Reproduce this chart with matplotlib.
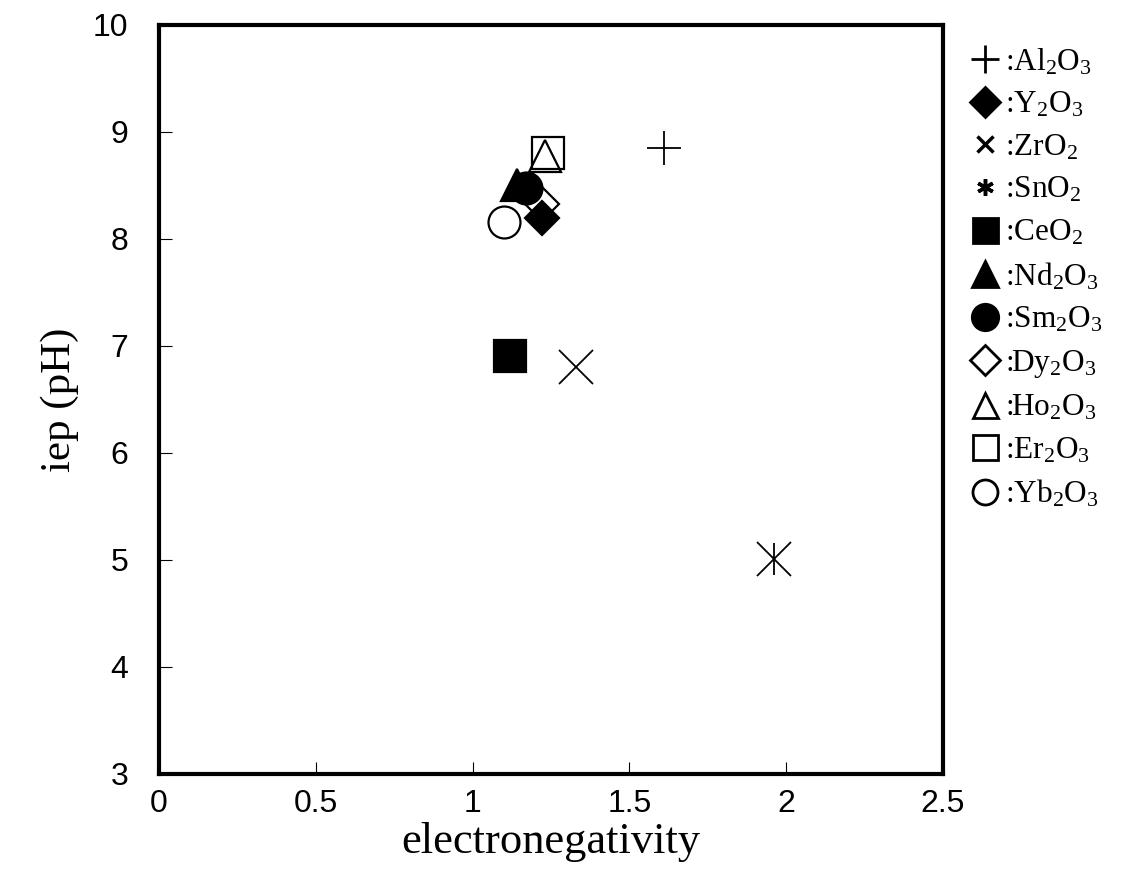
import matplotlib
matplotlib.use('Agg')
import matplotlib.pyplot as plt
from matplotlib.lines import Line2D
from matplotlib.ticker import FormatStrFormatter

plt.rcParams['font.family'] = 'Liberation Serif'
plt.rcParams['mathtext.fontset'] = 'custom'
plt.rcParams['mathtext.rm'] = 'Liberation Serif'
plt.rcParams['mathtext.it'] = 'Liberation Serif:italic'

# oxide, electronegativity, isoelectric point
oxides = ['Al$_2$O$_3$', 'Y$_2$O$_3$', 'ZrO$_2$', 'SnO$_2$', 'CeO$_2$', 'Nd$_2$O$_3$',
          'Sm$_2$O$_3$', 'Dy$_2$O$_3$', 'Ho$_2$O$_3$', 'Er$_2$O$_3$', 'Yb$_2$O$_3$']
en = [1.61, 1.22, 1.33, 1.96, 1.12, 1.14, 1.17, 1.22, 1.23, 1.24, 1.10]
iep = [8.85, 8.20, 6.80, 5.01, 6.91, 8.50, 8.48, 8.33, 8.78, 8.80, 8.16]

xticks = [0, 0.5, 1, 1.5, 2, 2.5]
yticks = [3, 4, 5, 6, 7, 8, 9, 10]

# marker, size, filled
styles = [('+', 24, True), ('D', 17, True), ('x', 24, True), ('x', 24, True),
          ('s', 23, True), ('^', 23, True), ('o', 23, True), ('D', 17, False),
          ('^', 23, False), ('s', 23, False), ('o', 23, False)]

fig = plt.figure(figsize=(11.29, 8.96), dpi=100)
ax = fig.add_axes([0.1408, 0.1362, 0.6945, 0.8359])

for i in range(len(oxides)):
    m, ms, filled = styles[i]
    if m in ('+', 'x'):
        ax.plot(en[i], iep[i], m, color='black', ms=ms, mew=1.3)
    else:
        ax.plot(en[i], iep[i], m, ms=ms, mec='black', mew=1.6,
                mfc='black' if filled else 'none')
    if i == 3:
        ax.plot(en[i], iep[i], '|', color='black', ms=23, mew=1.3)

ax.set_xlim(0, 2.5)
ax.set_ylim(3, 10)
ax.set_xticks(xticks)
ax.set_yticks(yticks)
ax.xaxis.set_major_formatter(FormatStrFormatter('%g'))
ax.tick_params(direction='in', length=9, width=0.8, labelsize=23, color='black')
ax.tick_params(axis='y', pad=22)
ax.tick_params(axis='x', pad=11)
for lab in ax.get_xticklabels() + ax.get_yticklabels():
    lab.set_fontfamily('Liberation Sans')
for s in ax.spines.values():
    s.set_linewidth(3)
    s.set_color('black')

ax.set_xlabel('electronegativity', fontsize=32, labelpad=2)
ax.set_ylabel('iep (pH)', fontsize=31, labelpad=10)

# legend handles (smaller symbols than the data points)
leg_sizes = [20, 15, 12, 12, 18, 19, 19, 15, 18, 18, 18]
handles = []
for i in range(len(oxides)):
    m, ms, filled = styles[i]
    if i == 3:
        handles.append(Line2D([], [], ls='none', marker=(6, 2, 0), color='black',
                              ms=leg_sizes[i], mew=2.5))
    elif m in ('+', 'x'):
        handles.append(Line2D([], [], ls='none', marker=m, color='black',
                              ms=leg_sizes[i], mew=2 if m == '+' else 2.5))
    else:
        handles.append(Line2D([], [], ls='none', marker=m, ms=leg_sizes[i], mec='black',
                              mew=2, mfc='black' if filled else 'none'))
labels = [':' + o for o in oxides]
fig.legend(handles, labels, loc='upper left', bbox_to_anchor=(0.858, 0.948),
           frameon=False, fontsize=22.5, handlelength=1.05, handletextpad=0.12,
           labelspacing=0.42, borderpad=0, borderaxespad=0)

fig.savefig('out.png', dpi=100)
